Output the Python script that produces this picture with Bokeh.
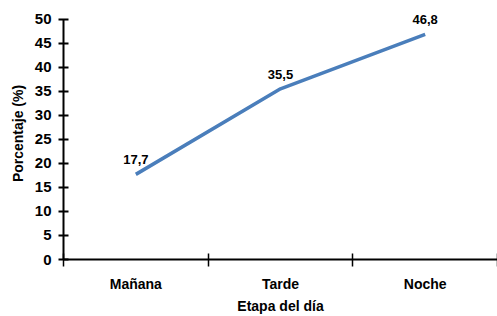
from bokeh.plotting import figure
from bokeh.models import Range1d, FixedTicker, ColumnDataSource, LabelSet
from bokeh.core.properties import value
from bokeh.embed import file_html
from bokeh.resources import INLINE

categories = ["Mañana", "Tarde", "Noche"]
values = [17.7, 35.5, 46.8]
y_ticks = [0, 5, 10, 15, 20, 25, 30, 35, 40, 45, 50]

FONT = "Liberation Sans"

xs = list(range(len(categories)))
labels = [f"{v:.1f}".replace(".", ",") for v in values]
src = ColumnDataSource(dict(x=xs, y=values, lab=labels))

p = figure(width=497, height=316, output_backend="svg", toolbar_location=None,
           x_range=Range1d(-0.5, 2.5), y_range=Range1d(0, 52.4),
           min_border_left=63, min_border_right=0, min_border_top=7, min_border_bottom=56)
p.outline_line_color = None
p.xgrid.visible = False
p.ygrid.visible = False

p.line("x", "y", source=src, line_color="#4A7EBB", line_width=3.5)
p.add_layout(LabelSet(x="x", y="y", text="lab", source=src, text_align="center",
                      text_baseline="bottom", y_offset=10, text_font=value(FONT),
                      text_font_style="bold", text_font_size="13px", text_color="black"))

# y axis
ya = p.yaxis[0]
ya.ticker = FixedTicker(ticks=y_ticks)
ya.bounds = (0, 50)
ya.axis_line_width = 2
ya.axis_line_color = "black"
ya.major_tick_in = 5
ya.major_tick_out = 5
ya.major_tick_line_width = 2
ya.minor_tick_line_color = None
ya.major_label_text_font = FONT
ya.major_label_text_font_style = "bold"
ya.major_label_text_font_size = "15px"
ya.major_label_text_color = "black"
ya.major_label_standoff = 7
ya.axis_label = "Porcentaje (%)"
ya.axis_label_text_font = FONT
ya.axis_label_text_font_style = "bold"
ya.axis_label_text_font_size = "14px"
ya.axis_label_text_color = "black"
ya.axis_label_standoff = 6

# x axis
xa = p.xaxis[0]
xa.ticker = FixedTicker(ticks=xs, minor_ticks=[-0.5, 0.5, 1.5, 2.5])
xa.major_label_overrides = {i: c for i, c in enumerate(categories)}
xa.axis_line_width = 2
xa.axis_line_color = "black"
xa.major_tick_in = 0
xa.major_tick_out = 0
xa.minor_tick_in = 6
xa.minor_tick_out = 7
xa.minor_tick_line_width = 1.5
xa.minor_tick_line_color = "black"
xa.major_label_text_font = FONT
xa.major_label_text_font_style = "bold"
xa.major_label_text_font_size = "14px"
xa.major_label_text_color = "black"
xa.major_label_standoff = 9
xa.axis_label = "Etapa del día"
xa.axis_label_text_font = FONT
xa.axis_label_text_font_style = "bold"
xa.axis_label_text_font_size = "14px"
xa.axis_label_text_color = "black"
xa.axis_label_standoff = 3

open("out.html", "w").write(file_html(p, INLINE))
